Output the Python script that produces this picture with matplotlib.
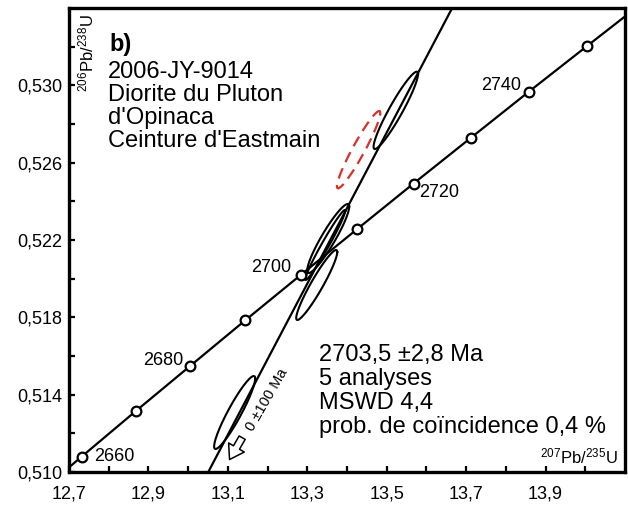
import numpy as np
import matplotlib
matplotlib.use('Agg')
import matplotlib.pyplot as plt
from matplotlib.patches import FancyArrowPatch

plt.rcParams['font.family'] = ['Liberation Sans', 'DejaVu Sans']
plt.rcParams['mathtext.fontset'] = 'custom'
plt.rcParams['mathtext.rm'] = 'Liberation Sans'
plt.rcParams['mathtext.it'] = 'Liberation Sans:italic'
plt.rcParams['mathtext.bf'] = 'Liberation Sans:bold'

# ---------------- data ----------------
# Concordia curve (207Pb/235U, 206Pb/238U) at ages in Ma
conc_age = [2650, 2660, 2670, 2680, 2690, 2700, 2710, 2720, 2730, 2740, 2750, 2760]
conc_x = [12.5971, 12.7316, 12.8675, 13.0048, 13.1434, 13.2834, 13.4247, 13.5675,
          13.7116, 13.8572, 14.0043, 14.1528]
conc_y = [0.50845, 0.51079, 0.51314, 0.51548, 0.51784, 0.52019, 0.52255, 0.52492,
          0.52728, 0.52966, 0.53203, 0.53441]
marker_ages = [2660, 2670, 2680, 2690, 2700, 2710, 2720, 2730, 2740, 2750]
label_ages = [2660, 2680, 2700, 2720, 2740]

# Discordia: lower intercept (0 Ma) and upper intercept (2703.5 Ma)
disc_lower = (0.0, 0.0)
disc_upper = (13.3327, 0.52102)

# Analyses used in the regression (error ellipses)
ell_x = [13.5229, 13.3527, 13.3452, 13.3238, 13.1171]
ell_y = [0.528706, 0.522078, 0.521742, 0.519673, 0.513078]
ell_sx = [0.0560, 0.0529, 0.0504, 0.0517, 0.0517]
ell_sy = [0.00200, 0.001785, 0.00181, 0.00181, 0.001888]
ell_rho = [0.940, 0.925, 0.978, 0.942, 0.930]

# Rejected analysis (red dashed)
rej_x = [13.4293]
rej_y = [0.526673]
rej_sx = [0.0546]
rej_sy = [0.00200]
rej_rho = [0.948]

x_major = [12.7, 12.9, 13.1, 13.3, 13.5, 13.7, 13.9]
x_major_labels = ['12,7', '12,9', '13,1', '13,3', '13,5', '13,7', '13,9']
x_minor = [12.8, 13.0, 13.2, 13.4, 13.6, 13.8, 14.0]
y_major = [0.510, 0.514, 0.518, 0.522, 0.526, 0.530]
y_major_labels = ['0,510', '0,514', '0,518', '0,522', '0,526', '0,530']
y_minor = [0.512, 0.516, 0.520, 0.524, 0.528, 0.532]

# ---------------- figure ----------------
W, H = 628, 509
fig = plt.figure(figsize=(W / 100, H / 100), dpi=100)
ax = fig.add_axes([69 / W, 37 / H, 556 / W, 464 / H])
ax.set_xlim(12.7, 14.1)
ax.set_ylim(0.510, 0.534)


def ellipse(x0, y0, sx, sy, rho, n=300):
    t = np.linspace(0, 2 * np.pi, n)
    x = x0 + sx * np.cos(t)
    y = y0 + sy * (rho * np.cos(t) + np.sqrt(1 - rho ** 2) * np.sin(t))
    return x, y


# concordia
ax.plot(conc_x, conc_y, color='black', lw=1.6, zorder=3, solid_capstyle='butt')
mx = [conc_x[conc_age.index(a)] for a in marker_ages]
my = [conc_y[conc_age.index(a)] for a in marker_ages]
ax.plot(mx, my, 'o', ms=7, mfc='white', mec='black', mew=1.6, zorder=5, clip_on=False)

label_offsets = {2660: (13, 0, 'left'), 2680: (-7, 6, 'right'), 2700: (-9, 7, 'right'),
                 2720: (6, -9, 'left'), 2740: (-7, 6, 'right')}
for a in label_ages:
    dx, dy, ha = label_offsets[a]
    i = conc_age.index(a)
    ax.annotate(str(a), (conc_x[i], conc_y[i]), xytext=(dx, dy), textcoords='offset pixels',
                ha=ha, va='center', fontsize=13, zorder=6)

# discordia
ax.axline(disc_lower, disc_upper, color='black', lw=1.6, zorder=3)

# ellipses
for x0, y0, sx, sy, r in zip(ell_x, ell_y, ell_sx, ell_sy, ell_rho):
    ex, ey = ellipse(x0, y0, sx, sy, r)
    ax.plot(ex, ey, color='black', lw=1.5, zorder=4)
for x0, y0, sx, sy, r in zip(rej_x, rej_y, rej_sx, rej_sy, rej_rho):
    ex, ey = ellipse(x0, y0, sx, sy, r)
    ax.plot(ex, ey, color='#d7312a', lw=1.6, ls=(0, (5, 3)), zorder=4)

# hollow arrow along the discordia toward the lower intercept
arr = FancyArrowPatch((13.1395, 0.51190), (13.1007, 0.51052),
                      arrowstyle='simple,head_length=0.5,head_width=0.65,tail_width=0.25',
                      mutation_scale=20, fc='white', ec='black', lw=1.1, zorder=6)
ax.add_patch(arr)
ax.text(13.1985, 0.51372, '0 ±100 Ma', rotation=60, rotation_mode='anchor',
        ha='center', va='center', fontsize=10.5)

# axes styling
for s in ax.spines.values():
    s.set_linewidth(2.4)
ax.set_xticks(x_major)
ax.set_xticklabels(x_major_labels)
ax.set_xticks(x_minor, minor=True)
ax.set_yticks(y_major)
ax.set_yticklabels(y_major_labels)
ax.set_yticks(y_minor, minor=True)
ax.tick_params(which='both', direction='in', length=4, width=1.6, labelsize=13,
               top=False, right=False)
ax.tick_params(axis='x', which='both', pad=10)
ax.tick_params(axis='y', which='both', pad=5)


def fx(px):
    return (px - 69) / 556


def fy(py):
    return (472 - py) / 464


ax.text(fx(86), fy(53), r'$^{206}$Pb/$^{238}$U', rotation=90, ha='center', va='center',
        fontsize=12, transform=ax.transAxes)
ax.text(fx(618), fy(456), r'$^{207}$Pb/$^{235}$U', ha='right', va='center',
        fontsize=12, transform=ax.transAxes)

ax.text(fx(109), fy(44), 'b)', fontsize=17, fontweight='bold', ha='left', va='center',
        transform=ax.transAxes)
for txt, yy in zip(['2006-JY-9014', 'Diorite du Pluton', "d'Opinaca", "Ceinture d'Eastmain"],
                   [72, 95, 118, 141]):
    ax.text(fx(108), fy(yy), txt, fontsize=17, ha='left', va='center', transform=ax.transAxes)

for txt, yy in zip(['2703,5 ±2,8 Ma', '5 analyses', 'MSWD 4,4', 'prob. de coïncidence 0,4 %'],
                   [355, 379, 403, 427]):
    ax.text(fx(319), fy(yy), txt, fontsize=17, ha='left', va='center', transform=ax.transAxes)

fig.savefig('out.png', dpi=100)
